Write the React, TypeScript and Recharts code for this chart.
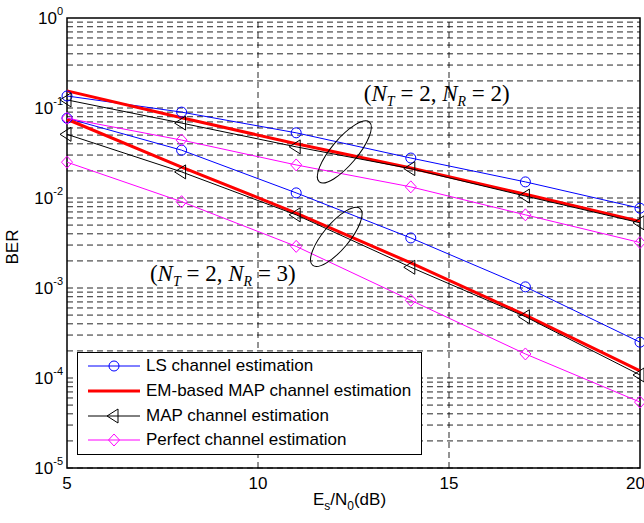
import React from 'react';
import { LineChart, Line, XAxis, YAxis, ReferenceLine, ReferenceDot, ReferenceArea, Legend } from 'recharts';

// Es/N0 points (dB)
const snr = [5, 8, 11, 14, 17, 20];

// NT=2, NR=2
const lsR2 = [0.136, 0.09, 0.053, 0.0278, 0.0151, 0.0077];
const emR2 = [0.155, 0.078, 0.04, 0.0215, 0.011, 0.0055];
const mapR2 = [0.123, 0.068, 0.037, 0.0212, 0.0105, 0.0053];
const perfR2 = [0.077, 0.044, 0.0233, 0.0133, 0.0065, 0.0032];

// NT=2, NR=3
const lsR3 = [0.077, 0.034, 0.0114, 0.0036, 0.00103, 0.00025];
const emR3 = [0.075, 0.022, 0.0068, 0.0019, 0.0005, 0.00012];
const mapR3 = [0.051, 0.0195, 0.0065, 0.0017, 0.00048, 0.000108];
const perfR3 = [0.025, 0.0091, 0.0029, 0.00073, 0.000185, 0.000054];

const xTicks = [5, 10, 15, 20];
const yTicks = [1e-5, 1e-4, 1e-3, 1e-2, 1e-1, 1];
const xGrid = [10, 15];
const yGrid = [-5, -4, -3, -2, -1].flatMap((e) => [1, 2, 3, 4, 5, 6, 7, 8, 9].map((m) => m * Math.pow(10, e)));

const data = snr.map((s, i) => ({
  snr: s,
  lsR2: lsR2[i], emR2: emR2[i], mapR2: mapR2[i], perfR2: perfR2[i],
  lsR3: lsR3[i], emR3: emR3[i], mapR3: mapR3[i], perfR3: perfR3[i],
}));

const series = [
  { keys: ['lsR2', 'lsR3'], name: 'LS channel estimation', color: '#0000ff', width: 1, marker: 'circle' },
  { keys: ['emR2', 'emR3'], name: 'EM-based MAP channel estimation', color: '#ff0000', width: 3, marker: 'none' },
  { keys: ['mapR2', 'mapR3'], name: 'MAP channel estimation', color: '#000000', width: 1, marker: 'triangle' },
  { keys: ['perfR2', 'perfR3'], name: 'Perfect channel estimation', color: '#ff00ff', width: 1, marker: 'diamond' },
];

const FONT = '"Liberation Sans", Arial, Helvetica, sans-serif';
const SERIF = '"Liberation Serif", "Times New Roman", serif';

const Marker = ({ cx, cy, kind, color }: any) => {
  if (cx == null || cy == null) return null;
  if (kind === 'circle') return <circle cx={cx} cy={cy} r={5} fill="none" stroke={color} strokeWidth={1} />;
  if (kind === 'triangle')
    return <polygon points={`${cx - 7},${cy} ${cx + 4},${cy - 7} ${cx + 4},${cy + 7}`} fill="none" stroke={color} strokeWidth={1} />;
  if (kind === 'diamond')
    return <polygon points={`${cx},${cy - 6} ${cx + 5.5},${cy} ${cx},${cy + 6} ${cx - 5.5},${cy}`} fill="none" stroke={color} strokeWidth={1} />;
  return null;
};

const YTick = ({ x, y, payload }: any) => {
  const exp = Math.round(Math.log10(payload.value));
  return (
    <text x={x} y={y} dy={6} textAnchor="end" fontSize={17} fontFamily={FONT} fill="#000">
      <tspan>10</tspan>
      <tspan dy={-9} fontSize={11}>{exp}</tspan>
    </text>
  );
};

const XLabel = ({ viewBox }: any) => {
  const cx = viewBox.x + viewBox.width / 2 - 4;
  return (
    <text x={cx} y={505} textAnchor="middle" fontSize={17} fontFamily={FONT} fill="#000">
      <tspan>E</tspan>
      <tspan dy={5} fontSize={12}>s</tspan>
      <tspan dy={-5}>/N</tspan>
      <tspan dy={5} fontSize={12}>0</tspan>
      <tspan dy={-5}>(dB)</tspan>
    </text>
  );
};

const YLabel = () => (
  <text x={18} y={247} transform="rotate(-90 18 247)" textAnchor="middle" fontSize={17} fontFamily={FONT} fill="#000">
    BER
  </text>
);

const ConfigText = ({ cx, cy, nr }: any) => (
  <text x={cx} y={cy} dy={8} textAnchor="middle" fontSize={23} fontFamily={SERIF} fill="#000">
    <tspan>(</tspan>
    <tspan fontStyle="italic">N</tspan>
    <tspan dy={5} fontSize={14} fontStyle="italic">T</tspan>
    <tspan dy={-5}> = 2, </tspan>
    <tspan fontStyle="italic">N</tspan>
    <tspan dy={5} fontSize={14} fontStyle="italic">R</tspan>
    <tspan dy={-5}> = {nr})</tspan>
  </text>
);

const Ellipse = ({ cx, cy, rx, ry }: any) => (
  <ellipse cx={cx} cy={cy} rx={rx} ry={ry} transform={`rotate(-50 ${cx} ${cy})`} fill="none" stroke="#000" strokeWidth={1} />
);

const LegendBox = () => (
  <div
    style={{
      width: 343,
      height: 100,
      border: '1.5px solid #000',
      background: '#fff',
      boxSizing: 'content-box',
      paddingTop: 1,
      fontFamily: FONT,
      fontSize: 17,
      color: '#000',
    }}
  >
    {series.map((s) => (
      <div key={s.name} style={{ display: 'flex', alignItems: 'center', height: 24.7 }}>
        <svg width={64} height={20} style={{ marginLeft: 10 }}>
          <line x1={0} y1={10} x2={52} y2={10} stroke={s.color} strokeWidth={s.width} />
          <Marker cx={26} cy={10} kind={s.marker} color={s.color} />
        </svg>
        <span style={{ whiteSpace: 'nowrap', marginLeft: -6 }}>{s.name}</span>
      </div>
    ))}
  </div>
);

export default function App() {
  return (
    <div style={{ position: 'absolute', left: 0, top: 0, width: 644, height: 523, background: '#fff' }}>
      <LineChart width={644} height={523} data={data} margin={{ top: 18, right: 4, bottom: 0, left: 0 }}>
        {yGrid.map((v) => (
          <ReferenceLine key={`h${v}`} y={v} stroke="#000" strokeDasharray="6 4" strokeWidth={1} strokeOpacity={0.85} />
        ))}
        {xGrid.map((v) => (
          <ReferenceLine key={`v${v}`} x={v} stroke="#000" strokeDasharray="6 4" strokeWidth={1} strokeOpacity={0.85} />
        ))}
        <XAxis
          dataKey="snr"
          type="number"
          domain={[5, 20]}
          ticks={xTicks}
          height={55}
          axisLine={false}
          tickLine={false}
          tickSize={0}
          tickMargin={9}
          tick={{ fontSize: 17, fontFamily: FONT, fill: '#000' }}
          label={<XLabel />}
        />
        <YAxis
          type="number"
          scale="log"
          domain={[1e-5, 1]}
          ticks={yTicks}
          allowDataOverflow
          width={67}
          axisLine={false}
          tickLine={false}
          tickSize={0}
          tickMargin={4}
          tick={<YTick />}
          label={<YLabel />}
        />
        {series.flatMap((s) =>
          s.keys.map((k) => (
            <Line
              key={k}
              dataKey={k}
              name={s.name}
              stroke={s.color}
              strokeWidth={s.width}
              isAnimationActive={false}
              dot={(p: any) => <Marker key={`${k}-${p.index}`} cx={p.cx} cy={p.cy} kind={s.marker} color={s.color} />}
              activeDot={false}
              legendType="none"
            />
          ))
        )}
        <ReferenceArea x1={5} x2={20} y1={1e-5} y2={1} fill="none" stroke="#000" strokeWidth={1.5} ifOverflow="visible" />
        <ReferenceDot x={12.26} y={0.0325} r={0} shape={(p: any) => <Ellipse cx={p.cx} cy={p.cy} rx={39} ry={13} />} />
        <ReferenceDot x={12.05} y={0.0037} r={0} shape={(p: any) => <Ellipse cx={p.cx} cy={p.cy} rx={37} ry={13} />} />
        <ReferenceDot x={14.68} y={0.147} r={0} shape={(p: any) => <ConfigText cx={p.cx} cy={p.cy} nr={2} />} />
        <ReferenceDot x={9.08} y={0.00147} r={0} shape={(p: any) => <ConfigText cx={p.cx} cy={p.cy} nr={3} />} />
        <Legend
          layout="horizontal"
          verticalAlign="middle"
          align="center"
          content={() => <LegendBox />}
          wrapperStyle={{ left: 77, top: 352, width: 'auto', height: 'auto' }}
        />
      </LineChart>
    </div>
  );
}
